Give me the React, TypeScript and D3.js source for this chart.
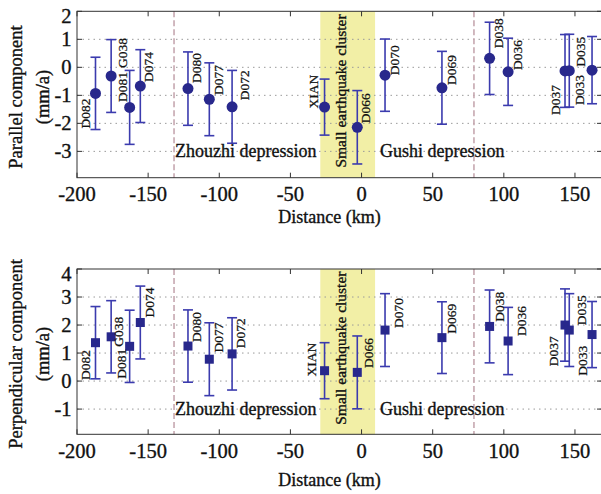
import React, { useRef, useEffect } from 'react';
import * as d3 from 'd3';

// station names, distance along profile (km)
const stations = ['D082', 'G038', 'D081', 'D074', 'D080', 'D077', 'D072', 'XIAN', 'D066', 'D070', 'D069', 'D038', 'D036', 'D037', 'D033', 'D035'];
const distance = [-187, -176, -163, -155.5, -122, -107, -91, -26, -3, 16.5, 56.5, 90, 103, 143, 146, 162];

// parallel component (mm/a) and its error
const parallel = [-0.93, -0.31, -1.43, -0.67, -0.76, -1.14, -1.41, -1.42, -2.14, -0.28, -0.73, 0.32, -0.16, -0.13, -0.12, -0.1];
const parallelErr = [1.29, 1.3, 1.32, 1.3, 1.31, 1.3, 1.3, 1.0, 1.31, 1.29, 1.3, 1.29, 1.2, 1.3, 1.3, 1.2];

// perpendicular component (mm/a) and its error
const perpendicular = [1.37, 1.58, 1.24, 2.09, 1.25, 0.78, 0.97, 0.37, 0.31, 1.82, 1.55, 1.95, 1.43, 2.0, 1.82, 1.66];
const perpendicularErr = [1.29, 1.29, 1.29, 1.3, 1.29, 1.3, 1.29, 1.0, 1.3, 1.3, 1.28, 1.3, 1.2, 1.29, 1.3, 1.18];

const xTicks = [-200, -150, -100, -50, 0, 50, 100, 150];
const parallelTicks = [-3, -2, -1, 0, 1, 2];
const perpendicularTicks = [-1, 0, 1, 2, 3, 4];

const clusterRange = [-29, 9.5];
const boundaries = [-131.8, 79];

// label placement in px: [dx of label centre, dy of text start]
const labelPosTop: [number, number][] = [
  [-10, 35], [11.7, -8], [-7, -5.3], [8, -4], [8.4, -5.7], [9, -4.3], [12, -6.7], [-11, 1.3],
  [8.7, -4], [9, 0], [9.4, -2.7], [9, -10], [9.3, -1.7], [-10, 44], [10, 34.3], [-11.3, -3.3],
];
const labelPosBottom: [number, number][] = [
  [-10, 37.3], [7, 10], [-8, 32.3], [9, -5], [8.4, -4], [9.6, -6.7], [8.4, -5.7], [-12.6, 5.7],
  [11, -4.4], [13, -2], [9.4, -4], [10, -4.6], [13, -5], [-11.7, 41.3], [13.4, 45.7], [-11, -9.3],
];

const FONT = '"Liberation Serif", "Times New Roman", serif';

// serif text, slightly thickened like the scanned original
const addText = (sel, size) =>
  sel
    .append('text')
    .attr('font-size', size)
    .attr('font-family', FONT)
    .attr('fill', '#111')
    .attr('stroke', '#111')
    .attr('stroke-width', 0.35);

const drawPanel = (svg, opts) => {
  const { top, bottom, yDomain, yTicks, values, errs, marker, labelPos, titleLines, titleY, tickY, xTitleY } = opts;
  const left = 77;
  const right = 602;

  const x = d3.scaleLinear().domain([-200, 169]).range([left, right]);
  const y = d3.scaleLinear().domain(yDomain).range([bottom, top]);

  const g = svg.append('g');

  // cluster band
  g.append('rect')
    .attr('x', x(clusterRange[0]))
    .attr('y', top)
    .attr('width', x(clusterRange[1]) - x(clusterRange[0]))
    .attr('height', bottom - top)
    .attr('fill', '#f2efa6');

  // grid lines
  g.selectAll('.grid')
    .data(yTicks.filter((t) => y(t) > top + 1))
    .enter()
    .append('line')
    .attr('x1', left)
    .attr('x2', right)
    .attr('y1', (d) => y(d))
    .attr('y2', (d) => y(d))
    .attr('stroke', '#9a9a9a')
    .attr('stroke-width', 1)
    .attr('stroke-dasharray', '1.5,4');

  // depression boundaries
  g.selectAll('.bound')
    .data(boundaries)
    .enter()
    .append('line')
    .attr('x1', (d) => x(d))
    .attr('x2', (d) => x(d))
    .attr('y1', top)
    .attr('y2', bottom)
    .attr('stroke', '#c6a8b0')
    .attr('stroke-width', 1.6)
    .attr('stroke-dasharray', '6,3');

  // frame
  g.append('rect')
    .attr('x', left)
    .attr('y', top)
    .attr('width', right - left)
    .attr('height', bottom - top)
    .attr('fill', 'none')
    .attr('stroke', '#333')
    .attr('stroke-width', 1);

  // ticks, inward on all sides
  xTicks.forEach((t) => {
    g.append('line').attr('x1', x(t)).attr('x2', x(t)).attr('y1', bottom).attr('y2', bottom - 5).attr('stroke', '#333');
    g.append('line').attr('x1', x(t)).attr('x2', x(t)).attr('y1', top).attr('y2', top + 5).attr('stroke', '#333');
    addText(g, 20.5)
      .attr('x', x(t))
      .attr('y', tickY)
      .attr('text-anchor', 'middle')
      .attr('dominant-baseline', 'central')
      .text(t);
  });
  yTicks.forEach((t) => {
    g.append('line').attr('x1', left).attr('x2', left + 5).attr('y1', y(t)).attr('y2', y(t)).attr('stroke', '#333');
    g.append('line').attr('x1', right).attr('x2', right - 5).attr('y1', y(t)).attr('y2', y(t)).attr('stroke', '#333');
    addText(g, 20.5)
      .attr('x', 71.5)
      .attr('y', Math.max(y(t), top + 5))
      .attr('text-anchor', 'end')
      .attr('dominant-baseline', 'central')
      .text(t);
  });

  // region labels
  addText(g, 18)
    .attr('x', x(boundaries[0]) + 1)
    .attr('y', y(yTicks[0]))
    .attr('dominant-baseline', 'central')
    .text('Zhouzhi depression');
  addText(g, 18)
    .attr('x', x(clusterRange[1]) + 5)
    .attr('y', y(yTicks[0]))
    .attr('dominant-baseline', 'central')
    .text('Gushi depression');
  const cx = x(clusterRange[0]) + 20.5;
  const cy = (top + bottom) / 2 - 3.5;
  addText(g, 15.5)
    .attr('transform', `translate(${cx},${cy}) rotate(-90)`)
    .attr('text-anchor', 'middle')
    .attr('dominant-baseline', 'central')
    .text('Small earthquake cluster');

  // error bars
  const pts = distance.map((d, i) => ({ d, v: values[i], e: errs[i], name: stations[i], lp: labelPos[i] }));
  const bars = g.selectAll('.err').data(pts).enter().append('g');
  bars.append('line')
    .attr('x1', (p) => x(p.d)).attr('x2', (p) => x(p.d))
    .attr('y1', (p) => y(p.v + p.e)).attr('y2', (p) => y(p.v - p.e));
  bars.append('line')
    .attr('x1', (p) => x(p.d) - 5).attr('x2', (p) => x(p.d) + 5)
    .attr('y1', (p) => y(p.v + p.e)).attr('y2', (p) => y(p.v + p.e));
  bars.append('line')
    .attr('x1', (p) => x(p.d) - 5).attr('x2', (p) => x(p.d) + 5)
    .attr('y1', (p) => y(p.v - p.e)).attr('y2', (p) => y(p.v - p.e));
  bars.selectAll('line').attr('stroke', '#3b3bae').attr('stroke-width', 1.6);

  // markers
  if (marker === 'circle') {
    g.selectAll('.mk').data(pts).enter().append('circle')
      .attr('cx', (p) => x(p.d)).attr('cy', (p) => y(p.v)).attr('r', 5.5)
      .attr('fill', '#28288c');
  } else {
    g.selectAll('.mk').data(pts).enter().append('rect')
      .attr('x', (p) => x(p.d) - 4.5).attr('y', (p) => y(p.v) - 4.5)
      .attr('width', 9).attr('height', 9)
      .attr('fill', '#28288c');
  }

  // station labels
  pts.forEach((p) => {
    addText(g, 13.5)
      .attr('transform', `translate(${x(p.d) + p.lp[0]},${y(p.v) + p.lp[1]}) rotate(-90)`)
      .attr('dominant-baseline', 'central')
      .attr('stroke-width', 0.25)
      .text(p.name);
  });

  // axis titles
  addText(g, 18)
    .attr('x', 329.5)
    .attr('y', xTitleY)
    .attr('text-anchor', 'middle')
    .attr('dominant-baseline', 'central')
    .text('Distance (km)');
  titleLines.forEach((line, i) => {
    addText(g, 18.5)
      .attr('transform', `translate(${16 + i * 27},${titleY}) rotate(-90)`)
      .attr('text-anchor', 'middle')
      .attr('dominant-baseline', 'central')
      .text(line);
  });
};

const App = () => {
  const ref = useRef(null);

  useEffect(() => {
    if (!ref.current) return;
    const svg = d3.select(ref.current);
    svg.selectAll('*').remove();

    svg.append('rect').attr('width', 601).attr('height', 494).attr('fill', '#fff');

    drawPanel(svg, {
      top: 11.3,
      bottom: 177.7,
      yDomain: [-3.94, 2],
      yTicks: parallelTicks,
      values: parallel,
      errs: parallelErr,
      marker: 'circle',
      labelPos: labelPosTop,
      titleLines: ['Parallel component', '(mm/a)'],
      titleY: 97,
      tickY: 194,
      xTitleY: 217,
    });

    drawPanel(svg, {
      top: 269,
      bottom: 434.3,
      yDomain: [-1.9, 4],
      yTicks: perpendicularTicks,
      values: perpendicular,
      errs: perpendicularErr,
      marker: 'square',
      labelPos: labelPosBottom,
      titleLines: ['Perpendicular component', '(mm/a)'],
      titleY: 354,
      tickY: 451,
      xTitleY: 480,
    });
  }, []);

  return (
    <svg
      ref={ref}
      width={601}
      height={494}
      style={{ position: 'absolute', left: 0, top: 0, display: 'block' }}
    />
  );
};

export default App;
